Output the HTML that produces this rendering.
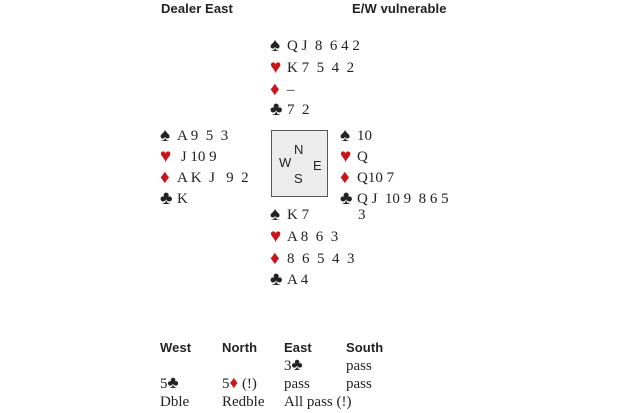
<!DOCTYPE html>
<html><head><style>
body{margin:0;width:620px;height:413px;background:#fff;position:relative;overflow:hidden;font-family:"Liberation Serif",serif;font-size:15px;color:#222}
.t{position:absolute;white-space:pre;line-height:18px;height:18px}
.h{font-family:"Liberation Sans",sans-serif;font-weight:bold;font-size:13px;letter-spacing:0.1px}
.s{display:inline-block;width:17px;font-size:19px;line-height:18px;vertical-align:top}
.b{font-size:17px;line-height:0}
.r{color:#c8151b}
.box{position:absolute;left:271px;top:130px;width:55px;height:65px;border:1.5px solid #555;background:#ececec}
.c{position:absolute;font-family:"Liberation Sans",sans-serif;font-size:13px;line-height:14px}
</style></head><body>
<div class="t h" style="left:161px;top:0px">Dealer East</div>
<div class="t h" style="left:352px;top:0px">E/W vulnerable</div>

<div class="t" style="left:270px;top:37px"><span class="s">♠</span>Q J  8  6 4 2</div>
<div class="t" style="left:270px;top:59px"><span class="s r">♥</span>K 7  5  4  2</div>
<div class="t" style="left:270px;top:81px"><span class="s r">♦</span>–</div>
<div class="t" style="left:270px;top:101px"><span class="s">♣</span>7  2</div>

<div class="t" style="left:160px;top:127px"><span class="s">♠</span>A 9  5  3</div>
<div class="t" style="left:160px;top:148px"><span class="s r">♥</span> J 10 9</div>
<div class="t" style="left:160px;top:169px"><span class="s r">♦</span>A K  J   9  2</div>
<div class="t" style="left:160px;top:190px"><span class="s">♣</span>K</div>

<div class="box"></div>
<div class="c" style="left:294px;top:143px">N</div>
<div class="c" style="left:279px;top:156px">W</div>
<div class="c" style="left:313px;top:159px">E</div>
<div class="c" style="left:294px;top:172px">S</div>

<div class="t" style="left:340px;top:127px"><span class="s">♠</span>10</div>
<div class="t" style="left:340px;top:148px"><span class="s r">♥</span>Q</div>
<div class="t" style="left:340px;top:169px"><span class="s r">♦</span>Q10 7</div>
<div class="t" style="left:340px;top:190px"><span class="s">♣</span>Q J  10 9  8 6 5</div>
<div class="t" style="left:358px;top:206px">3</div>

<div class="t" style="left:270px;top:206px"><span class="s">♠</span>K 7</div>
<div class="t" style="left:270px;top:228px"><span class="s r">♥</span>A 8  6  3</div>
<div class="t" style="left:270px;top:250px"><span class="s r">♦</span>8  6  5  4  3</div>
<div class="t" style="left:270px;top:271px"><span class="s">♣</span>A 4</div>

<div class="t h" style="left:160px;top:339px">West</div>
<div class="t h" style="left:222px;top:339px">North</div>
<div class="t h" style="left:284px;top:339px">East</div>
<div class="t h" style="left:346px;top:339px">South</div>
<div class="t" style="left:284px;top:357px">3<span class="b">♣</span></div>
<div class="t" style="left:346px;top:357px">pass</div>
<div class="t" style="left:160px;top:375px">5<span class="b">♣</span></div>
<div class="t" style="left:222px;top:375px">5<span class="b r">♦</span> (!)</div>
<div class="t" style="left:284px;top:375px">pass</div>
<div class="t" style="left:346px;top:375px">pass</div>
<div class="t" style="left:160px;top:393px">Dble</div>
<div class="t" style="left:222px;top:393px">Redble</div>
<div class="t" style="left:284px;top:393px">All pass (!)</div>
</body></html>
